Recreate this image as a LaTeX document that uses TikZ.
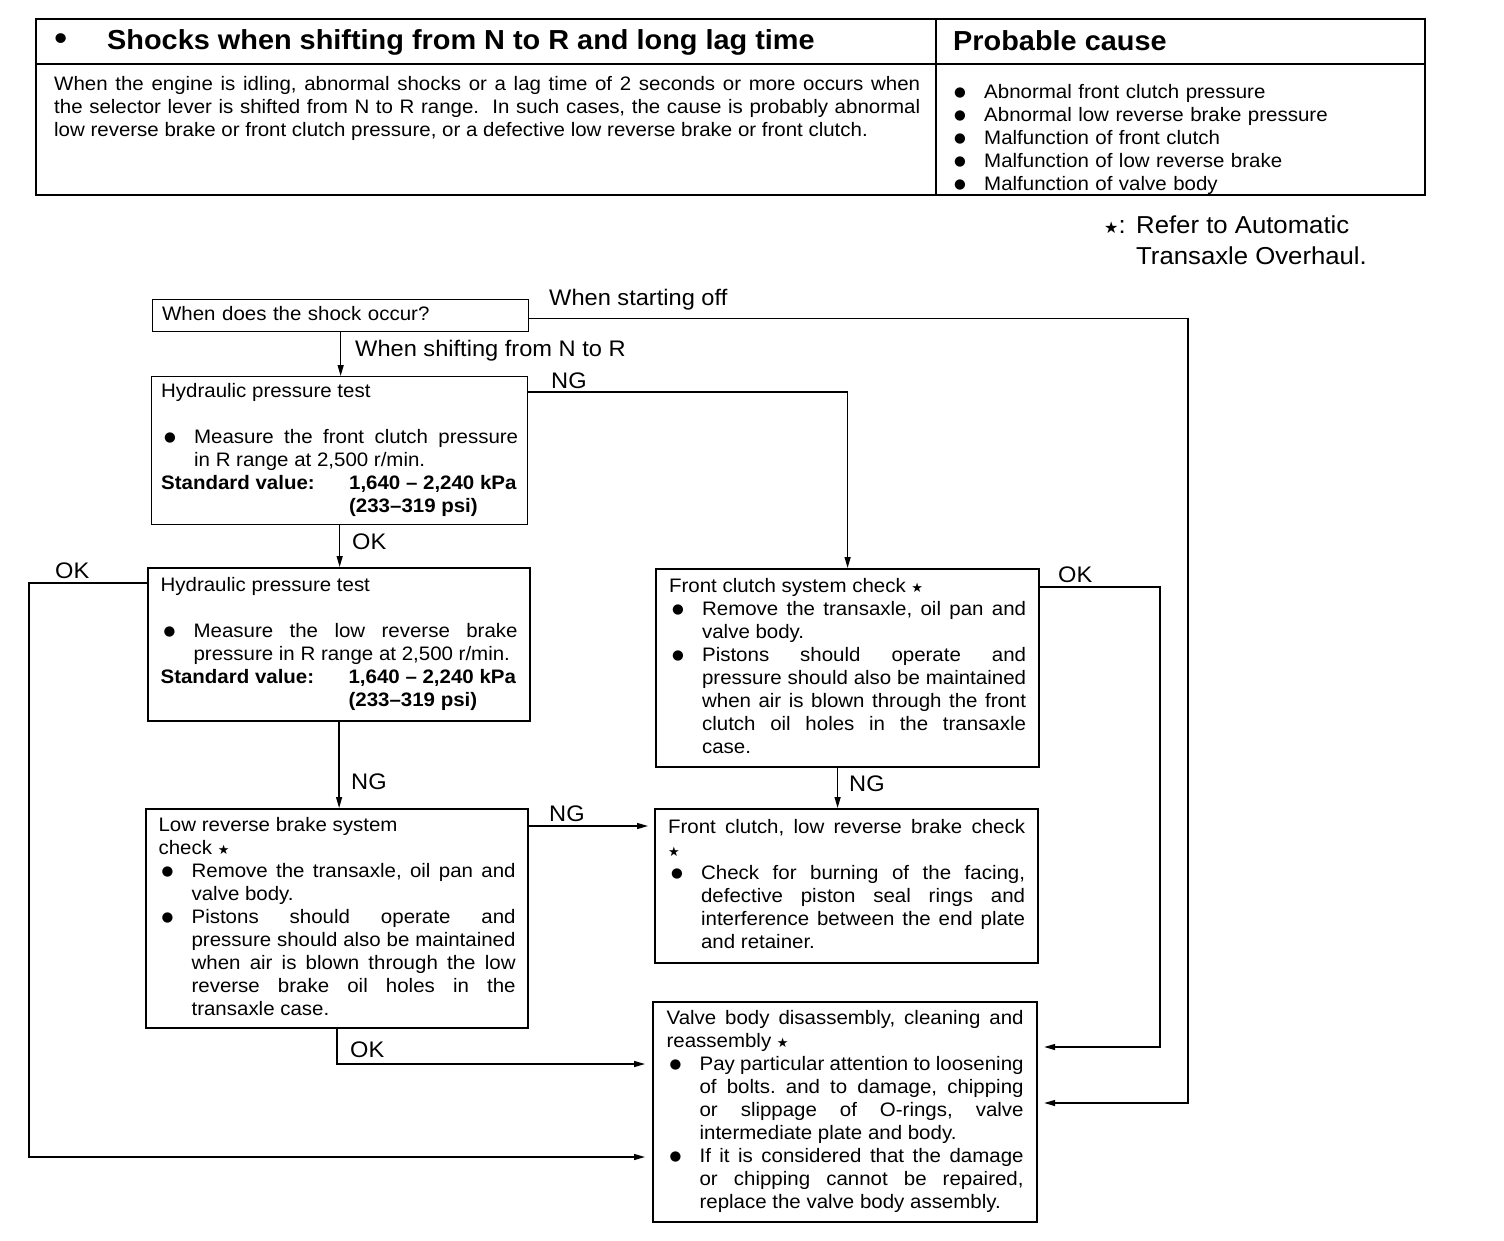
\documentclass[tikz,border=0pt]{standalone}
\usepackage{fontspec}
\setmainfont{Liberation Sans}[FakeStretch=1.05]
\newfontfamily\symfont{DejaVu Sans}
\usetikzlibrary{arrows.meta,calc,positioning}

\hyphenpenalty=10000
\exhyphenpenalty=10000
\tolerance=10000
\frenchspacing

\newcommand\bodyfont{\fontsize{19.5}{23}\selectfont}
\newcommand\lblfont{\fontsize{22.5}{26}\selectfont}
\newcommand\hdfont{\fontsize{27.5}{32}\selectfont\bfseries}
\newcommand\notefont{\fontsize{24.5}{31}\selectfont}
\newcommand\bigdot{\raisebox{2pt}{\symfont\fontsize{13.5}{23}\selectfont ●}}
\newcommand\refstar{{\symfont\fontsize{13}{23}\selectfont ★}}
% bullet item with hanging indent
\newcommand\bitem{\par\noindent\hangindent=33pt\hangafter=1\makebox[33pt][l]{\strut\hspace{3pt}\bigdot}}
% closes the last paragraph of a box
\newcommand\boxend{\strut\par}
% the two lines of the standard value
\newcommand\stdvalue{\par\noindent\makebox[188pt][l]{\bfseries Standard value:}\textbf{1,640 -- 2,240 kPa}%
  \par\noindent\hspace*{188pt}\textbf{(233--319 psi)}}

\begin{document}
\begin{tikzpicture}[x=1pt, y=-1pt,
  box/.style={draw, line width=1.3pt, anchor=north west, text width=357pt, inner sep=0pt,
    align=justify, font=\bodyfont, execute at begin node={\noindent\strut}},
  thickbox/.style={box, line width=2.2pt},
  txt/.style={inner sep=0pt, anchor=north west, font=\bodyfont},
  lbl/.style={font=\lblfont, inner sep=0pt, anchor=base west},
  arr/.style={line width=1.3pt, -{Triangle[length=11pt,width=6pt]}}]

  \useasboundingbox (0,0) rectangle (1504,1240);

  % table at the top
  \draw[line width=2pt] (36,19) rectangle (1425,195);
  \draw[line width=1.6pt] (936,19) -- (936,195);
  \draw[line width=1.6pt] (36,64) -- (1425,64);
  \node[anchor=base west, inner sep=0pt, font=\fontsize{36}{36}\selectfont] (hdbul) at (54,50) {\textbullet};
  \node[anchor=base west, inner sep=0pt, font=\hdfont] (hd) at (107,49) {Shocks when shifting from N to R and long lag time};
  \node[anchor=base west, inner sep=0pt, font=\hdfont] (hdcause) at (953,50) {Probable cause};
  \node[txt, text width=866pt, align=justify] (desc) at (54,74) {\noindent\strut When the engine is idling, abnormal shocks or a lag time of 2 seconds or more occurs when \linebreak
    the selector lever is shifted from N to R range.\ \ In such cases, the cause is probably abnormal \linebreak
    low reverse brake or front clutch pressure, or a defective low reverse brake or front clutch.\boxend};
  \node[txt, text width=460pt, align=left] (causes) at (951,75) {%
    \bitem Abnormal front clutch pressure
    \bitem Abnormal low reverse brake pressure
    \bitem Malfunction of front clutch
    \bitem Malfunction of low reverse brake
    \bitem Malfunction of valve body\boxend};
  \node[inner sep=0pt, anchor=north west, font=\notefont, align=left] (note) at (1104,211.3)
    {\strut\makebox[32pt][l]{{\symfont\fontsize{16}{31}\selectfont ★}:}Refer to Automatic\\\hspace*{32pt}Transaxle Overhaul.\strut};

  % flow chart boxes
  \node[box, align=left, minimum width=376pt, minimum height=32pt] (ask) at (152,299) {When does the shock occur?\boxend};
  \node[box, minimum width=376pt, minimum height=148pt] (hpt1) at (151,376) {Hydraulic pressure test
    \par\noindent\mbox{}
    \bitem Measure the front clutch pressure \linebreak in R range at 2,500 r/min.
    \stdvalue\boxend};
  \node[thickbox, minimum width=382pt, minimum height=153pt] (hpt2) at (147,567) {Hydraulic pressure test
    \par\noindent\mbox{}
    \bitem Measure the low reverse brake \linebreak pressure in R range at 2,500 r/min.
    \stdvalue\boxend};
  \node[thickbox, minimum width=383pt, minimum height=198pt] (fcs) at (655,568) {Front clutch system check \refstar
    \bitem Remove the transaxle, oil pan and \linebreak valve body.
    \bitem Pistons should operate and \linebreak pressure should also be maintained \linebreak
      when air is blown through the front \linebreak clutch oil holes in the transaxle \linebreak case.\boxend};
  \node[thickbox, minimum width=382pt, minimum height=219pt] (lrb) at (145,808) {Low reverse brake system\newline check \refstar
    \bitem Remove the transaxle, oil pan and \linebreak valve body.
    \bitem Pistons should operate and \linebreak pressure should also be maintained \linebreak
      when air is blown through the low \linebreak reverse brake oil holes in the \linebreak transaxle case.\boxend};
  \node[thickbox, minimum width=383pt, minimum height=154pt] (fcb) at (654,808) {Front clutch, low reverse brake check \linebreak \refstar
    \bitem Check for burning of the facing, \linebreak defective piston seal rings and \linebreak
      interference between the end plate \linebreak and retainer.\boxend};
  \node[thickbox, minimum width=384pt, minimum height=220pt] (valve) at (652,1001) {Valve body disassembly, cleaning and \linebreak reassembly \refstar
    \bitem Pay particular attention to loosening \linebreak of bolts. and to damage, chipping \linebreak
      or slippage of O-rings, valve \linebreak intermediate plate and body.
    \bitem If it is considered that the damage \linebreak or chipping cannot be repaired, \linebreak
      replace the valve body assembly.\boxend};

  % corners of the long connectors
  \coordinate (st) at (1188,1103);
  \coordinate (ok2) at (29,1157);
  \coordinate (ok3) at (1160,1047);
  \coordinate (e1) at ($(lrb.north east)+(0,18)$);

  % connectors
  \draw[arr] (ask.south) -- (ask.south |- hpt1.north);
  \draw[arr, shorten >=6pt] ($(ask.east)+(0,3)$) -| (st) -- (st -| valve.east);
  \draw[arr] ($(hpt1.north east)+(0,16)$) -| (fcs.north);
  \draw[arr] (hpt1.south) -- (hpt1.south |- hpt2.north);
  \draw[arr, shorten >=7pt] ($(hpt2.north west)+(0,16)$) -| (ok2) -- (ok2 -| valve.west);
  \draw[arr] (hpt2.south) -- (hpt2.south |- lrb.north);
  \draw[arr] ([xshift=-10pt]fcs.south) -- ([xshift=-10pt]fcs.south |- fcb.north);
  \draw[arr, shorten >=6pt] ($(fcs.north east)+(0,19)$) -| (ok3) -- (ok3 -| valve.east);
  \draw[arr, shorten >=6pt] (e1) -- (e1 -| fcb.west);
  \draw[arr, shorten >=7pt] (lrb.south) |- ($(valve.north west)+(0,63)$);

  % labels of the connectors
  \node[lbl] (lstart) at (549,305) {When starting off};
  \node[lbl] (lshift) at (355,356) {When shifting from N to R};
  \node[lbl] (lng1) at (551,388) {NG};
  \node[lbl] (lok1) at (352,549) {OK};
  \node[lbl] (lok2) at (55,578) {OK};
  \node[lbl] (lng2) at (351,789) {NG};
  \node[lbl] (lok3) at (1058,582) {OK};
  \node[lbl] (lng3) at (849,791) {NG};
  \node[lbl] (lng4) at (549,821) {NG};
  \node[lbl] (lok4) at (350,1057) {OK};
\end{tikzpicture}
\end{document}
